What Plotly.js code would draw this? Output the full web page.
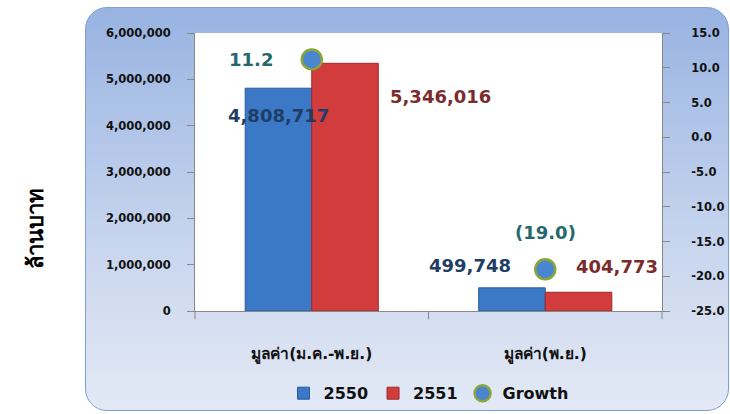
<!DOCTYPE html>
<html><head><meta charset="utf-8">
<script src="https://cdn.plot.ly/plotly-3.0.1.min.js"></script>
<style>
html,body{margin:0;padding:0;background:#fff;}
#wrap{position:relative;width:730px;height:414px;overflow:hidden;}
#box{position:absolute;left:85px;top:7px;width:642px;height:402px;border-radius:22px;
 border:1px solid #7e9fd3;background:linear-gradient(to bottom,#98b3e1 0%,#b9cbeb 40%,#d3ddf0 75%,#e3e9f5 100%);}
#chart{position:absolute;left:0;top:0;width:730px;height:414px;}
</style></head>
<body><div id="wrap"><div id="box"></div><div id="chart"></div></div>
<script>
const categories = ['มูลค่า(ม.ค.-พ.ย.)', 'มูลค่า(พ.ย.)'];
const values2550 = [4808717, 499748];
const values2551 = [5346016, 404773];
const growth = [11.2, -19.0];
const labels2550 = ['4,808,717', '499,748'];
const labels2551 = ['5,346,016', '404,773'];
const growthLabels = ['11.2', '(19.0)'];
const leftTicks = [0, 1000000, 2000000, 3000000, 4000000, 5000000, 6000000];
const leftTickText = ['0', '1,000,000', '2,000,000', '3,000,000', '4,000,000', '5,000,000', '6,000,000'];
const rightTicks = [-25, -20, -15, -10, -5, 0, 5, 10, 15];
const rightTickText = ['-25.0', '-20.0', '-15.0', '-10.0', '-5.0', '0.0', '5.0', '10.0', '15.0'];
const yTitle = 'ล้านบาท';

const F = '"DejaVu Sans", Tahoma, Verdana, "Noto Sans", sans-serif';

const traces = [
 {type:'bar', name:'2550', x:categories, y:values2550,
  marker:{color:'#3b78c6', line:{color:'#2a5a9a', width:1}}},
 {type:'bar', name:'2551', x:categories, y:values2551,
  marker:{color:'#d33c3c', line:{color:'#9a2a2a', width:1}}},
 {type:'scatter', mode:'markers', name:'Growth', x:categories, y:growth, yaxis:'y2',
  marker:{size:20, color:'#4a86cf', line:{color:'#8aa53a', width:2.5}}}
];

const ann = [];
const off2550 = [[-33, -27], [-75, 22]];
const off2551 = [[129, -33], [72, 26]];
const offG = [[-61, 0], [0, 37]];
for (let i = 0; i < categories.length; i++) {
 ann.push({x:categories[i], y:values2550[i], xref:'x', yref:'y', text:labels2550[i], showarrow:false,
  xshift:off2550[i][0], yshift:off2550[i][1], font:{family:F, size:18, weight:'bold', color:'#1f3d66'}});
 ann.push({x:categories[i], y:values2551[i], xref:'x', yref:'y', text:labels2551[i], showarrow:false,
  xshift:off2551[i][0], yshift:off2551[i][1], font:{family:F, size:18, weight:'bold', color:'#7a2c2c'}});
 ann.push({x:categories[i], y:growth[i], xref:'x', yref:'y2', text:growthLabels[i], showarrow:false,
  xshift:offG[i][0], yshift:offG[i][1], font:{family:F, size:18, weight:'bold', color:'#24686e'}});
}
ann.push({xref:'paper', yref:'paper', x:-0.343, y:0.298, text:yTitle, textangle:-90, showarrow:false,
  xanchor:'center', yanchor:'middle', font:{family:F, size:22, weight:'bold', color:'#000'}});

const layout = {
 width:730, height:414,
 margin:{l:195, r:68, t:33, b:103, autoexpand:false},
 paper_bgcolor:'rgba(0,0,0,0)', plot_bgcolor:'#ffffff',
 barmode:'group', bargap:0.43, bargroupgap:0,
 showlegend:true,
 legend:{orientation:'h', x:0.5, xanchor:'center', yref:'container', y:0.05, yanchor:'middle',
  font:{family:F, size:16, weight:'bold', color:'#111'}, bgcolor:'rgba(0,0,0,0)', traceorder:'normal', itemwidth:30},
 xaxis:{showline:true, linecolor:'#888', linewidth:1, ticks:'outside', tickcolor:'rgba(0,0,0,0)', ticklen:28,
  tickfont:{family:F, size:15.5, weight:'bold', color:'#111'}, showgrid:false, zeroline:false},
 yaxis:{range:[0,6000000], tickvals:leftTicks, ticktext:leftTickText, showline:true, linecolor:'#888',
  ticks:'outside', tickcolor:'#888', ticklen:7, ticklabelstandoff:14, showgrid:false, zeroline:false,
  tickfont:{family:F, size:11.5, weight:'bold', color:'#111'}},
 yaxis2:{range:[-25,15], tickvals:rightTicks, ticktext:rightTickText, overlaying:'y', side:'right',
  showline:true, linecolor:'#888', ticks:'outside', tickcolor:'#888', ticklen:7, ticklabelstandoff:19, showgrid:false, zeroline:false,
  tickfont:{family:F, size:11.5, weight:'bold', color:'#111'}},
 annotations:ann,
 shapes:[{type:'line', xref:'paper', yref:'paper', x0:0.5, x1:0.5, y0:0, y1:-0.03, line:{color:'#888', width:1}},
         {type:'line', xref:'paper', yref:'paper', x0:0, x1:0, y0:0, y1:-0.03, line:{color:'#888', width:1}},
         {type:'line', xref:'paper', yref:'paper', x0:1, x1:1, y0:0, y1:-0.03, line:{color:'#888', width:1}}]
};
Plotly.newPlot('chart', traces, layout, {displayModeBar:false, staticPlot:true});
</script></body></html>
